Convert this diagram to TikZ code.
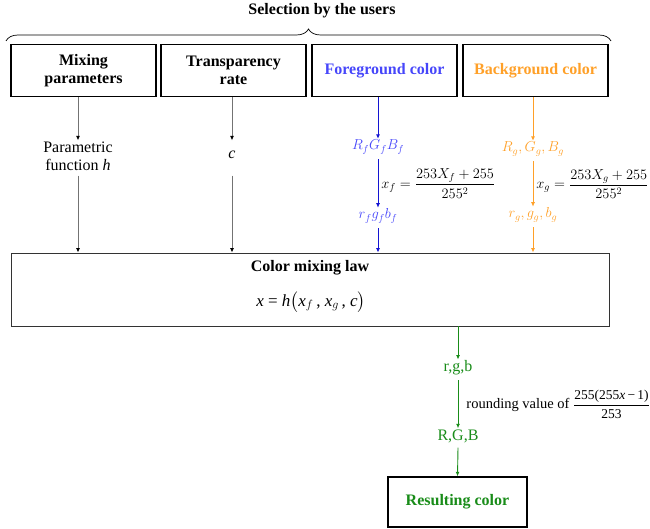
\documentclass[tikz,border=0pt]{standalone}
\usepackage{amsmath}
\usepackage{fontspec}
\setmainfont{Liberation Serif}
\usetikzlibrary{arrows.meta,decorations.pathreplacing}
\definecolor{fgc}{RGB}{70,70,250}
\definecolor{fga}{RGB}{20,20,210}
\definecolor{bgc}{RGB}{255,160,40}
\definecolor{grc}{RGB}{25,140,25}
\begin{document}
\begin{tikzpicture}[x=1pt,y=-1pt,
  topbox/.style={draw,line width=1.4pt,minimum width=145pt,minimum height=52pt,align=center,font=\fontsize{16}{18}\selectfont\bfseries,inner sep=0pt},
  lawbox/.style={draw,black!80,line width=0.9pt,minimum width=598pt,minimum height=73pt,inner sep=0pt},
  plain/.style={align=center,font=\fontsize{16}{18}\selectfont,inner sep=1pt},
  arr/.style={-{Latex[length=4.5pt,width=4pt]},line width=0.9pt},
  garr/.style={arr,black!55,-{Latex[length=4.5pt,width=4pt,black]}},
  barr/.style={arr,fga},
  oarr/.style={arr,bgc},
  grarr/.style={arr,grc},
  lbl/.style={font=\fontsize{14.5}{16}\selectfont,anchor=west,inner sep=1pt,text=black}
]
\useasboundingbox (0,0) rectangle (650,529);
\node[font=\fontsize{16}{18}\selectfont\bfseries] (title) at (322,11) {Selection by the users};
\coordinate (bl) at (6,41);
\coordinate (br) at (611,41);
\draw[line width=0.7pt,decorate,decoration={brace,amplitude=12pt}] (bl) -- (br);

\node[topbox] (m1) at (83.5,70.5) {Mixing\\parameters};
\node[topbox] (m2) at (233.5,70.5) {Transparency\\rate};
\node[topbox,text=fgc] (m3) at (384.5,70.5) {Foreground color};
\node[topbox,text=bgc] (m4) at (535.5,70.5) {Background color};

\node[lawbox] (law) at (310,289.5) {};
\node[font=\fontsize{16}{18}\selectfont\bfseries] (lawt) at (310,268) {Color mixing law};
\node[font=\fontsize{17}{19}\selectfont] (lawf) at (311,302) {\textit{x} = \textit{h}$\big($\textit{x}$_f$\,, \textit{x}$_g$\,, \textit{c}$\big)$};

\node[plain] (p1) at (78,156) {Parametric\\function \emph{h}};
\node[plain] (c) at (232,155) {\emph{c}};

\node[plain,text=fgc,font=\fontsize{14}{16}\selectfont] (Rf) at (378,147) {$R_fG_fB_f$};
\node[plain,text=fgc,font=\fontsize{14}{16}\selectfont] (rf) at (378,216) {$r_fg_fb_f$};
\node[plain,text=bgc,font=\fontsize{14}{16}\selectfont] (Rg) at (533,149) {$R_g,G_g,B_g$};
\node[plain,text=bgc,font=\fontsize{14}{16}\selectfont] (rg) at (533,215) {$r_g,g_g,b_g$};

\draw[garr] (m1.south -| p1) -- (p1.north);
\draw[garr] (m2.south -| c) -- (c.north |- p1.north);
\draw[garr] (p1.south) ++(0,4) -- (law.north -| p1);
\draw[garr] (c.south |- p1.south) ++(0,4) -- (law.north -| c);

\draw[barr] (m3.south -| Rf) -- (Rf.north);
\draw[barr] (Rf.south) ++(0,4) -- (rf.north) node[lbl,midway,right=2pt] {$x_f=\dfrac{253X_f+255}{255^2}$};
\draw[barr] (rf.south) ++(0,4) -- (law.north -| rf);

\draw[oarr] (m4.south -| Rg) -- (Rg.north);
\draw[oarr] (Rg.south) ++(0,4) -- (rg.north) node[lbl,midway,right=2pt] {$x_g=\dfrac{253X_g+255}{255^2}$};
\draw[oarr] (rg.south) ++(0,4) -- (law.north -| rg);

\node[plain,text=grc] (rgb) at (458,368) {r,g,b};
\node[plain,text=grc] (RGB) at (458,436) {R,G,B};
\node[draw,line width=1.4pt,minimum width=139pt,minimum height=50pt,inner sep=0pt,text=grc,font=\fontsize{16}{18}\selectfont\bfseries] (res) at (457.5,502) {Resulting color};

\draw[grarr] (law.south -| rgb) -- (rgb.north);
\draw[grarr] (rgb.south) ++(0,4) -- (RGB.north) node[lbl,midway,right=7pt] {rounding value of {\fontsize{13.5}{15}\selectfont$\dfrac{\text{255(255\textit{x}\,−\,1)}}{\text{253}}$}};
\draw[grarr] (RGB.south) ++(0,4) -- (res.north);
\end{tikzpicture}
\end{document}
